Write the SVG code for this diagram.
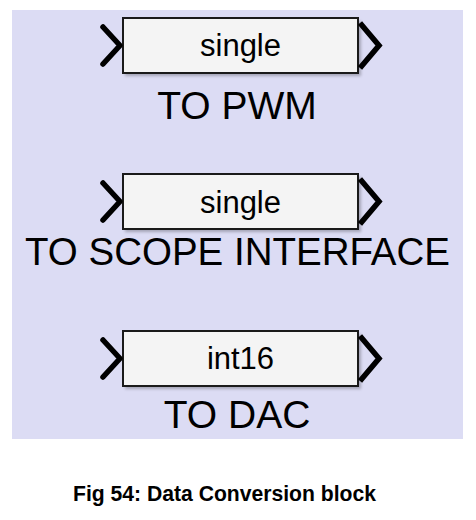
<svg xmlns="http://www.w3.org/2000/svg" width="476" height="520" viewBox="0 0 476 520">
<defs>
<style>
.bg{fill:#dcdcf4}
.box{fill:#f4f4f4;stroke:#1a1a1a;stroke-width:2}
.shadow{fill:#000;opacity:0.25}
.port{fill:none;stroke:#000;stroke-width:5.5;stroke-linecap:round;stroke-linejoin:round}
.oport{fill:none;stroke:#000;stroke-width:5.5;stroke-linejoin:miter}
.t{font-family:"Liberation Sans",Arial,sans-serif;fill:#000;text-anchor:middle}
.lbl{font-size:31px}
.name{font-size:39px}
.cap{font-family:"Liberation Sans",Arial,sans-serif;font-weight:bold;font-size:22px;fill:#000}
</style>
<filter id="blur" x="-10%" y="-10%" width="120%" height="130%"><feGaussianBlur stdDeviation="1.5"/></filter>
</defs>
<rect class="bg" x="12" y="10" width="451" height="429"/>
<g id="block1">
<rect class="shadow" x="125" y="21" width="236" height="55" filter="url(#blur)"/>
<rect class="box" x="123" y="18" width="235" height="55"/>
<polyline class="port" points="103,27 120,45.5 103,64"/>
<polyline class="oport" points="360,23 379,45.5 360,68"/>
<text class="t lbl" x="240.5" y="56">single</text>
<text class="t name" x="237" y="119">TO PWM</text>
</g>
<g id="block2">
<rect class="shadow" x="125" y="177" width="236" height="55" filter="url(#blur)"/>
<rect class="box" x="123" y="174" width="235" height="55"/>
<polyline class="port" points="103,183 120,201.5 103,220"/>
<polyline class="oport" points="360,179 379,201.5 360,224"/>
<text class="t lbl" x="240.5" y="213">single</text>
<text class="t name" x="237.5" y="265" textLength="425" lengthAdjust="spacingAndGlyphs">TO SCOPE INTERFACE</text>
</g>
<g id="block3">
<rect class="shadow" x="125" y="334" width="236" height="55" filter="url(#blur)"/>
<rect class="box" x="123" y="331" width="235" height="55"/>
<polyline class="port" points="103,340 120,358.5 103,377"/>
<polyline class="oport" points="360,336 379,358.5 360,381"/>
<text class="t lbl" x="240.5" y="369">int16</text>
<text class="t name" x="237" y="428">TO DAC</text>
</g>
<g id="connectors"></g>
<text class="cap" x="73" y="501" textLength="303" lengthAdjust="spacingAndGlyphs">Fig 54: Data Conversion block</text>
</svg>
